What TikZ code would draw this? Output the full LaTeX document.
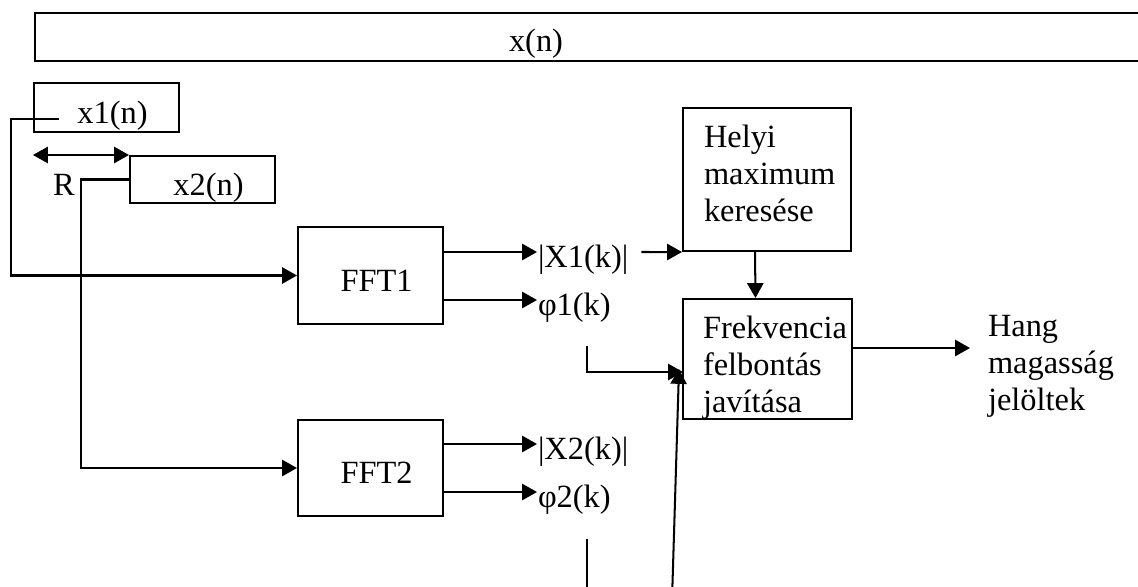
\documentclass[tikz,border=0pt]{standalone}
\usepackage{fontspec}
\setmainfont{Liberation Serif}
\usetikzlibrary{arrows.meta}
\newcommand{\pxs}{0.3704pt}
\begin{document}
\begin{tikzpicture}[x=\pxs, y=-\pxs, line width=0.75pt,
  every node/.style={font=\fontsize{12}{13.7}\selectfont, inner sep=0pt},
  box/.style={draw, minimum width=145*\pxs, text height=13pt, text depth=1.5pt,
    execute at begin node=\hspace*{4.5pt}},
  lab/.style={text height=13pt, text depth=1.5pt},
  multi/.style={align=left, anchor=base west},
  arr/.style={-{Triangle[length=5.5pt,width=6pt]}},
  darr/.style={{Triangle[length=5.5pt,width=6pt]}-{Triangle[length=5.5pt,width=6pt]}}]
  \clip (0,0) rectangle (1138,586);
  \fill[white] (0,0) rectangle (1138,586);

  % Draw the signal and the two windows
  \node[box, minimum width=1200*\pxs, minimum height=48*\pxs, anchor=north west] (xbox) at (34,12) {};
  \node[lab] (xn) at (536,35.5) {x(n)};
  \node[box, minimum height=49*\pxs] (x1) at (106.5,107.5) {x1(n)};
  \node[box, minimum height=47*\pxs] (x2) at (202.5,179.5) {x2(n)};
  \node[lab] (r) at (64,179.5) {R};
  \draw[darr] (x1.west |- x2.north) -- (x2.north west);

  % Draw the FFT blocks
  \node[box, minimum height=97*\pxs] (fft1) at (370.5,275.5) {FFT1};
  \node[box, minimum height=96*\pxs] (fft2) at (370.5,468) {FFT2};
  \coordinate (x1out) at (59,119);
  \draw[arr] (x1out) -- ++(-48,0) |- (fft1.west);
  \draw[arr] (x2.west) -- ++(-48,0) |- (fft2.west);

  \node[lab, anchor=west] (mag1) at (537,252) {|X1(k)|};
  \node[lab, anchor=west] (phi1) at (537,300) {φ1(k)};
  \node[lab, anchor=west] (mag2) at (537,444) {|X2(k)|};
  \node[lab, anchor=west] (phi2) at (537,492) {φ2(k)};
  \draw[arr] (fft1.east |- mag1.west) -- (mag1.west);
  \draw[arr] (fft1.east |- phi1.west) -- (phi1.west);
  \draw[arr] (fft2.east |- mag2.west) -- (mag2.west);
  \draw[arr] (fft2.east |- phi2.west) -- (phi2.west);

  % Draw the search and the correction
  \node[box, minimum width=168*\pxs, minimum height=143*\pxs] (helyi) at (767,179.5) {};
  \node[multi] (helyitxt) at (703,221) {Helyi\\maximum\\keresése};
  \node[box, minimum width=169*\pxs, minimum height=120*\pxs] (frek) at (767.5,359) {};
  \node[multi] (frektxt) at (702,412) {Frekvencia\\felbontás\\javítása};
  \node[multi] (hang) at (987,410) {Hang\\magasság\\jelöltek};
  \draw[arr, shorten <=12*\pxs] (mag1.east) -- (helyi.south west);
  \draw[arr] ([xshift=-12*\pxs]helyi.south) -- ([xshift=-12*\pxs]frek.north);
  \coordinate (hangin) at (970,348);
  \draw[arr] (frek.east |- hangin) -- (hangin);

  % phase inputs
  \coordinate (phi1dn) at (587,346);
  \coordinate (frekin) at (683,372);
  \draw[arr] (phi1dn) |- (frekin);
  \coordinate (phi2dn) at (587,539);
  \coordinate (phi2end) at (587,600);
  \draw (phi2dn) -- (phi2end);
  \coordinate (phi2up) at (672,600);
  \coordinate (frekin2) at (679,369);
  \draw[arr] (phi2up) -- (frekin2);
\end{tikzpicture}
\end{document}
